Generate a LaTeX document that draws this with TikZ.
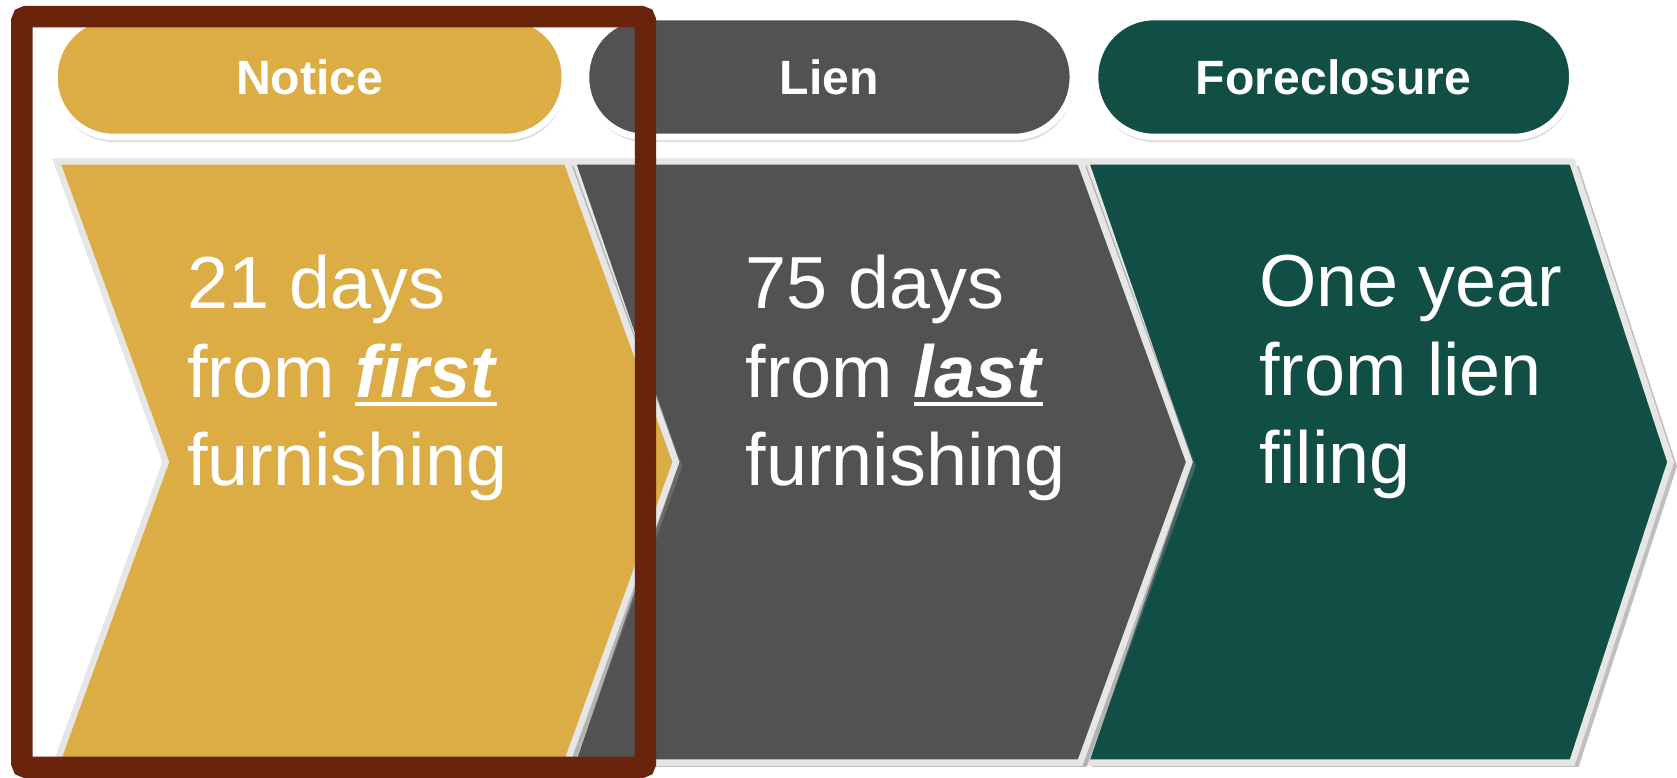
\documentclass[tikz,border=0pt]{standalone}
\usepackage{fontspec}
\setmainfont{Liberation Sans}
\usetikzlibrary{shadows}
\definecolor{gold}{HTML}{DBAD44}
\definecolor{slate}{HTML}{525252}
\definecolor{pine}{HTML}{114E45}
\definecolor{rim}{HTML}{E6E6E6}
\definecolor{framebrown}{HTML}{6B240C}
\newcommand\myul[1]{\setbox0\hbox{#1}\rlap{\rule[-8pt]{\wd0}{3pt}}\box0}
\begin{document}
\begin{tikzpicture}[x=1pt,y=-1pt,
  pill/.style={draw=white, line width=6pt, rounded corners=55pt, minimum height=112pt,
    text=white, font=\fontsize{45}{54}\selectfont\bfseries,
    drop shadow={shadow xshift=1pt, shadow yshift=-5pt, opacity=0.25}},
  chev/.style={draw=rim, line width=6pt, line join=miter,
    drop shadow={shadow xshift=6pt, shadow yshift=-4pt, opacity=0.5}},
  body/.style={text=white, align=left, inner sep=0pt, anchor=north west,
    font=\fontsize{69}{83}\selectfont},
  hilite/.style={draw=framebrown, line width=20pt, rounded corners=4pt}]
\useasboundingbox (0,0) rectangle (1568,727);
\fill[white] (0,0) rectangle (1568,727);
% pills
\node[pill, fill=gold, minimum width=477pt] (notice) at (289.5,72) {Notice};
\node[pill, fill=slate, minimum width=455pt] (lien) at (775.5,72) {Lien};
\node[pill, fill=pine, minimum width=446pt] (foreclosure) at (1247,72) {Foreclosure};
% chevrons (back to front)
\path[chev, fill=pine] (1015,151) -- (1470,151) -- (1562,432) -- (1470,713) -- (1015,713) -- (1112,432) -- cycle;
\path[chev, fill=slate] (535,151) -- (1010,151) -- (1112,432) -- (1010,713) -- (535,713) -- (632,432) -- cycle;
\path[chev, fill=gold] (53,151) -- (530,151) -- (632,432) -- (530,713) -- (53,713) -- (155,432) -- cycle;
% texts
\node[body] (t1) at (175,238) {21 days\\from \myul{\textbf{\textit{first}}}\\furnishing};
\node[body] (t2) at (697,238) {75 days\\from \myul{\textbf{\textit{last}}}\\furnishing};
\node[body] (t3) at (1177,238) {One year\\from lien\\filing};
% highlight frame
\draw[hilite] (20.5,15.5) rectangle (603.5,717.5);
\end{tikzpicture}
\end{document}
